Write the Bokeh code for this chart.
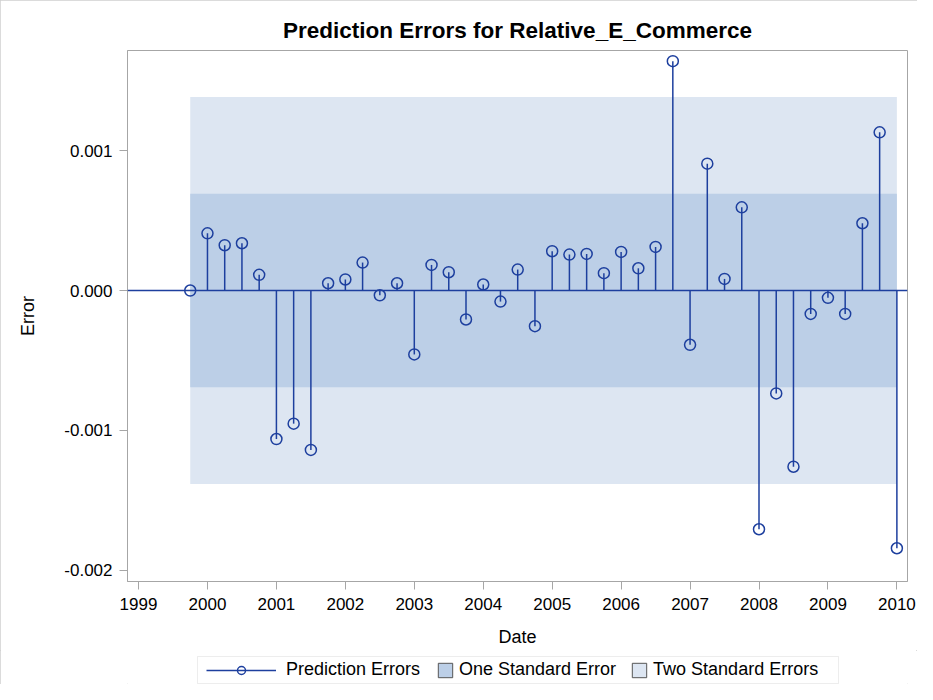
import pandas as pd
from bokeh.plotting import figure
from bokeh.layouts import column
from bokeh.models import (Range1d, FixedTicker, NumeralTickFormatter, Span, Legend,
                          LegendItem, ColumnDataSource, BoxAnnotation)
from bokeh.embed import file_html
from bokeh.resources import INLINE

# ---------------- data ----------------
quarter_starts = pd.date_range("1999-10-01", "2010-01-01", freq="QS")
prediction_errors = [
    0.0, 0.000409, 0.000324, 0.000338, 0.000112,
    -0.001062, -0.000952, -0.001140, 0.000052,
    0.000079, 0.000200, -0.000034, 0.000052,
    -0.000457, 0.000183, 0.000131, -0.000207,
    0.000043, -0.000079, 0.000150, -0.000255,
    0.000281, 0.000257, 0.000262, 0.000124,
    0.000276, 0.000159, 0.000312, 0.001640,
    -0.000388, 0.000907, 0.000083, 0.000595,
    -0.001707, -0.000736, -0.001260, -0.000167,
    -0.000052, -0.000167, 0.000481, 0.001131,
    -0.001843,
]
std_error = 0.000692
year_ticks = list(range(1999, 2011))
error_ticks = [-0.002, -0.001, 0.0, 0.001]

date_num = [d.year + (d.month - 1) / 12.0 for d in quarter_starts]
zeros = [0.0] * len(date_num)
src = ColumnDataSource(dict(x=date_num, y=prediction_errors, y0=zeros))

# ---------------- style ----------------
FONT = "Liberation Sans"
BLUE = "#1d3f9e"
ONE_SE = "#bccfe7"
TWO_SE = "#dde6f2"
GRAYLINE = "#a6a6a6"
LEFT, FRAME_W, RIGHT = 127, 780, 10

p = figure(frame_width=FRAME_W, frame_height=531,
           min_border_left=LEFT, min_border_right=RIGHT, min_border_top=50, min_border_bottom=69,
           x_range=Range1d(1998.84, 2010.154), y_range=Range1d(-0.0020807, 0.0017164),
           output_backend="svg", toolbar_location=None,
           title="Prediction Errors for Relative_E_Commerce")

p.title.align = "center"
p.title.text_font = FONT
p.title.text_font_size = "22.5px"
p.title.text_font_style = "bold"
p.title.text_color = "black"
p.title.standoff = 15

p.xgrid.visible = False
p.ygrid.visible = False
p.outline_line_color = GRAYLINE
p.background_fill_color = "white"
p.border_fill_color = "white"

# bands
band_left = [date_num[0]]
band_right = [date_num[-1]]
p.quad(left=band_left, right=band_right, bottom=[-2 * std_error], top=[2 * std_error],
       fill_color=TWO_SE, line_color=None)
p.quad(left=band_left, right=band_right, bottom=[-std_error], top=[std_error],
       fill_color=ONE_SE, line_color=None)

# reference line at zero
p.add_layout(Span(location=0, dimension="width", line_color=BLUE, line_width=1.5))

p.segment(x0="x", y0="y0", x1="x", y1="y", source=src, line_color=BLUE, line_width=1.5)
p.scatter(x="x", y="y", source=src, marker="circle", size=11,
          fill_color=None, line_color=BLUE, line_width=1.5)

# axes
for ax in (p.xaxis[0], p.yaxis[0]):
    ax.axis_line_color = GRAYLINE
    ax.major_tick_line_color = GRAYLINE
    ax.minor_tick_line_color = None
    ax.major_tick_out = 8
    ax.major_tick_in = 0
    ax.major_label_text_font = FONT
    ax.major_label_text_font_size = "17px"
    ax.major_label_text_color = "black"
    ax.axis_label_text_font = FONT
    ax.axis_label_text_font_size = "18px"
    ax.axis_label_text_font_style = "normal"
    ax.axis_label_text_color = "black"

p.xaxis.ticker = FixedTicker(ticks=year_ticks)
p.xaxis.axis_label = "Date"
p.xaxis.major_label_standoff = 8
p.xaxis.axis_label_standoff = 14

p.yaxis.ticker = FixedTicker(ticks=error_ticks)
p.yaxis.formatter = NumeralTickFormatter(format="0.000")
p.yaxis.axis_label = "Error"
p.yaxis.major_label_standoff = 7
p.yaxis.axis_label_standoff = 23

# ---------------- legend strip (separate figure, pixel-mapped ranges) ----------------
STRIP_H = 34
lg = figure(frame_width=FRAME_W, frame_height=STRIP_H,
            min_border_left=LEFT, min_border_right=RIGHT, min_border_top=0, min_border_bottom=0,
            x_range=Range1d(0, FRAME_W), y_range=Range1d(0, STRIP_H),
            x_axis_location=None, y_axis_location=None,
            output_backend="svg", toolbar_location=None, title=None)
lg.xgrid.visible = False
lg.ygrid.visible = False
lg.outline_line_color = None
lg.border_fill_color = "white"
lg.background_fill_color = "white"

# legend box outline
lg.add_layout(BoxAnnotation(left=70, right=711, bottom=1, top=28,
                            fill_alpha=0, line_color="#c4c4c4", line_width=1))

nan = float("nan")
k_seg = lg.segment(x0=[nan], y0=[nan], x1=[nan], y1=[nan], line_color=BLUE, line_width=1.5)
k_dot = lg.scatter(x=[nan], y=[nan], marker="circle", size=11,
                   fill_color=None, line_color=BLUE, line_width=1.5)
k_one = lg.quad(left=[nan], right=[nan], bottom=[nan], top=[nan],
                fill_color=ONE_SE, line_color="#555555", line_width=1)
k_two = lg.quad(left=[nan], right=[nan], bottom=[nan], top=[nan],
                fill_color=TWO_SE, line_color="#555555", line_width=1)

common = dict(orientation="horizontal", padding=0, margin=0,
              border_line_color=None, background_fill_alpha=0,
              label_text_font=FONT, label_text_font_size="18px", label_text_color="black")
leg1 = Legend(items=[LegendItem(label="Prediction Errors", renderers=[k_seg, k_dot])],
              location=(79, 4), glyph_width=70, glyph_height=20, label_standoff=10,
              spacing=0, **common)
leg2 = Legend(items=[LegendItem(label="One Standard Error", renderers=[k_one]),
                     LegendItem(label="Two Standard Errors", renderers=[k_two])],
              location=(309, 4), glyph_width=18, glyph_height=18, label_standoff=5,
              spacing=14, **common)
lg.add_layout(leg1, "center")
lg.add_layout(leg2, "center")

page = column(p, lg, spacing=0,
              styles={"outline": "1px solid #cfcfcf", "outline-offset": "-1px"})

open("out.html", "w").write(file_html(page, INLINE))
